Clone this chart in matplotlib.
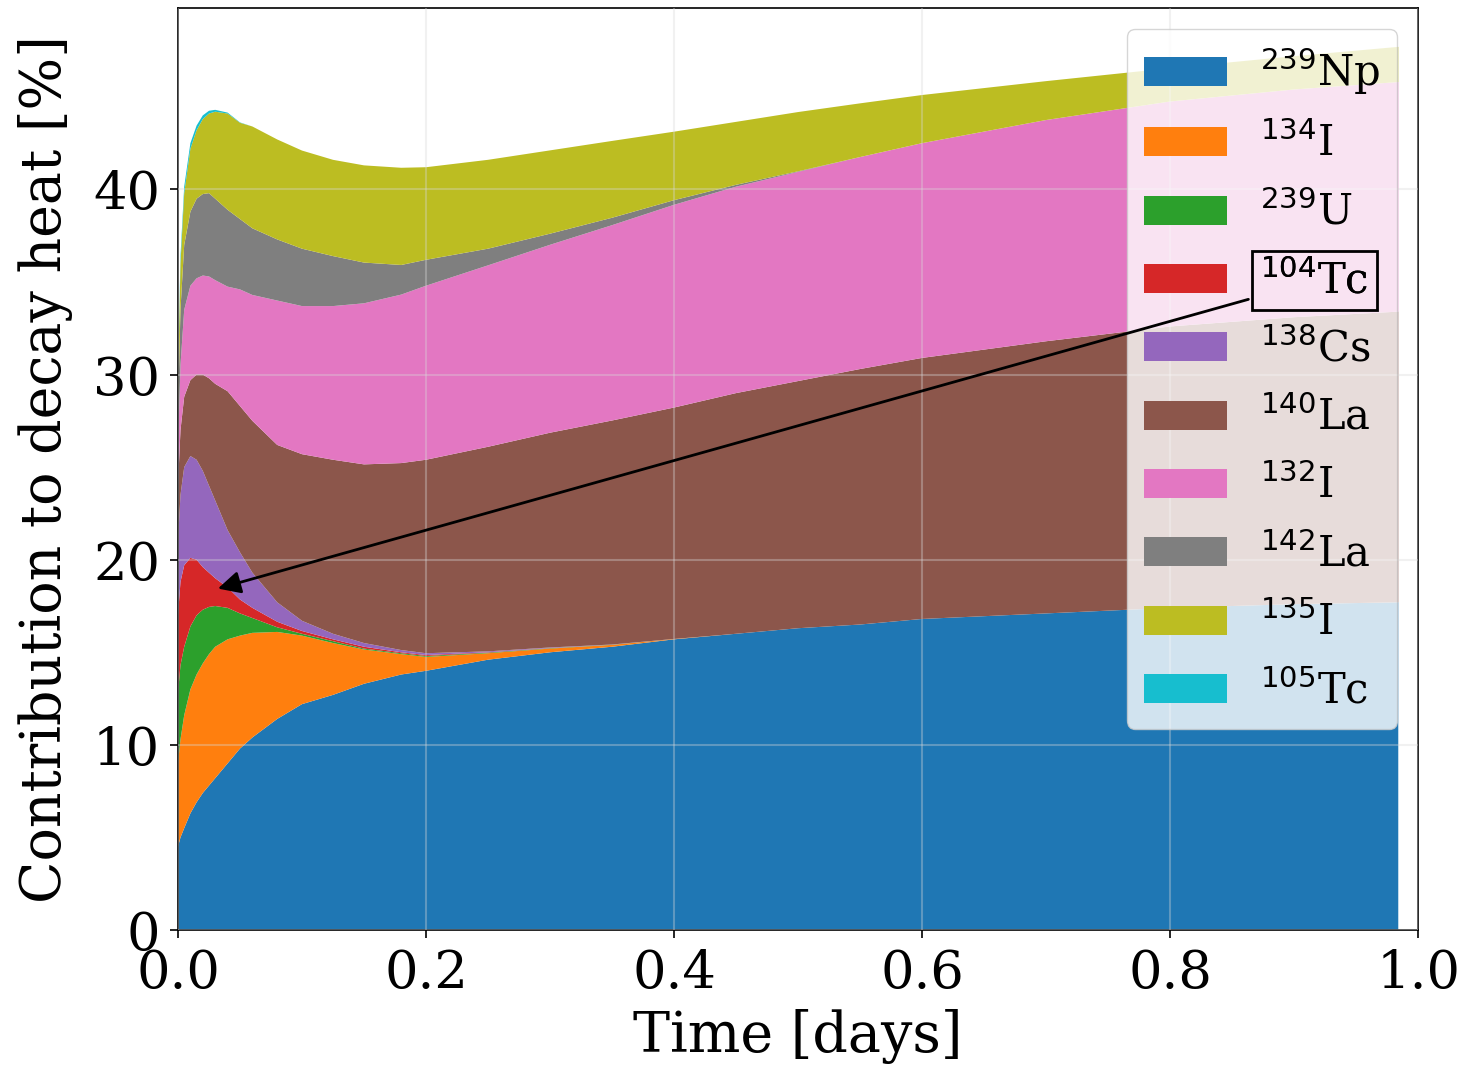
"""Decay heat contributions of the top nuclides after shutdown, stacked."""

import numpy as np
import matplotlib
matplotlib.use("Agg")
import matplotlib.pyplot as plt

plt.rcParams["font.family"] = "serif"
plt.rcParams["font.serif"] = ["DejaVu Serif"]

# time after shutdown [days]
time_days = [0, 0.002, 0.005, 0.01, 0.015, 0.02, 0.025, 0.03, 0.04, 0.05,
             0.06, 0.08, 0.1, 0.125, 0.15, 0.18, 0.2, 0.25, 0.3, 0.35,
             0.4, 0.45, 0.5, 0.55, 0.6, 0.7, 0.8, 0.9, 0.984]

nuclides = ["$^{239}$Np", "$^{134}$I", "$^{239}$U", "$^{104}$Tc", "$^{138}$Cs",
            "$^{140}$La", "$^{132}$I", "$^{142}$La", "$^{135}$I", "$^{105}$Tc"]

# contribution to decay heat [%], one list per nuclide
np239 = [4.5, 5.0, 5.5, 6.3, 6.9, 7.4, 7.8, 8.2, 9.0, 9.8,
         10.4, 11.4, 12.2, 12.7, 13.3, 13.8, 14.0, 14.6, 15.0, 15.3,
         15.7, 16.0, 16.3, 16.5, 16.8, 17.1, 17.4, 17.6, 17.7]
i134 = [4.5, 5.3, 6.1, 6.7, 6.9, 7.0, 7.1, 7.1, 6.7, 6.1,
        5.65, 4.7, 3.7, 2.8, 1.85, 1.1, 0.75, 0.35, 0.2, 0.1,
        0.02, 0, 0, 0, 0, 0, 0, 0, 0]
u239 = [3.8, 4.0, 3.7, 3.4, 3.2, 2.9, 2.55, 2.2, 1.7, 1.2,
        0.8, 0.25, 0.1, 0.1, 0.05, 0.05, 0.05, 0.03, 0.02, 0.01,
        0, 0, 0, 0, 0, 0, 0, 0, 0]
tc104 = [4.2, 4.5, 4.4, 3.7, 3.0, 2.3, 1.85, 1.5, 1.1, 0.75,
         0.55, 0.3, 0.15, 0.1, 0.1, 0.05, 0.05, 0.02, 0.01, 0,
         0, 0, 0, 0, 0, 0, 0, 0, 0]
cs138 = [4.0, 4.7, 5.3, 5.5, 5.4, 5.2, 4.7, 4.2, 3.1, 2.55,
         1.9, 1.05, 0.55, 0.3, 0.2, 0.12, 0.1, 0.05, 0.03, 0.01,
         0, 0, 0, 0, 0, 0, 0, 0, 0]
la140 = [3.0, 3.5, 3.8, 4.1, 4.6, 5.2, 5.8, 6.3, 7.5, 7.9,
         8.2, 8.5, 9.0, 9.4, 9.65, 10.1, 10.45, 11.05, 11.6, 12.1,
         12.5, 13.0, 13.35, 13.8, 14.1, 14.7, 15.2, 15.5, 15.7]
i132 = [2.0, 3.5, 4.7, 5.1, 5.2, 5.35, 5.5, 5.6, 5.65, 6.3,
        6.8, 7.8, 8.0, 8.3, 8.7, 9.1, 9.4, 9.8, 10.15, 10.55,
        10.95, 11.15, 11.3, 11.45, 11.6, 11.95, 12.15, 12.3, 12.4]
la142 = [2.0, 3.0, 3.5, 4.0, 4.3, 4.4, 4.5, 4.4, 4.15, 3.8,
         3.6, 3.3, 3.1, 2.7, 2.2, 1.6, 1.4, 0.9, 0.6, 0.4,
         0.25, 0.1, 0.03, 0, 0, 0, 0, 0, 0]
i135 = [1.5, 2.5, 2.8, 3.4, 3.7, 4.05, 4.3, 4.7, 5.2, 5.2,
        5.5, 5.4, 5.3, 5.2, 5.25, 5.25, 5.0, 4.8, 4.5, 4.15,
        3.7, 3.4, 3.2, 2.9, 2.6, 2.1, 1.8, 1.8, 1.9]
tc105 = [0.4, 0.4, 0.35, 0.3, 0.25, 0.2, 0.15, 0.1, 0.05, 0.02,
         0, 0, 0, 0, 0, 0, 0, 0, 0, 0,
         0, 0, 0, 0, 0, 0, 0, 0, 0]

series = [np239, i134, u239, tc104, cs138, la140, i132, la142, i135, tc105]

fig = plt.figure(figsize=(14.65, 10.67), dpi=100)
ax = fig.add_axes([0.1215, 0.1284, 0.8465, 0.8641])

ax.stackplot(time_days, *[np.array(s) for s in series], labels=nuclides)

ax.set_xlim(0, 1.0)
ax.set_ylim(0, 49.8)
ax.set_xticks([0.0, 0.2, 0.4, 0.6, 0.8, 1.0])
ax.set_yticks([0, 10, 20, 30, 40])
ax.tick_params(labelsize=38, length=6, width=1.2, pad=7)
for sp in ax.spines.values():
    sp.set_linewidth(1.2)

# faint grid drawn over the areas
ax.grid(True, color="#d8d8d8", alpha=0.35, linewidth=1.5)
ax.set_axisbelow(False)

ax.set_xlabel("Time [days]", fontsize=40, labelpad=7)
ax.set_ylabel("Contribution to decay heat [%]", fontsize=40, labelpad=14)

leg = ax.legend(loc="upper right", fontsize=30, framealpha=0.8,
                labelspacing=0.62)
leg.set_zorder(5)

fig.canvas.draw()
tc_label = leg.get_texts()[3]
ann = ax.annotate(
    "$^{104}$Tc", xy=(0.03, 18.4),
    xytext=(0.5, 0.5), textcoords=tc_label,
    ha="center", va="center", fontsize=30,
    bbox=dict(boxstyle="square,pad=0.2", fc="none", ec="black", lw=2),
    arrowprops=dict(arrowstyle="-|>", color="black", lw=2, mutation_scale=34),
)
ann.set_zorder(10)

fig.savefig("out.png", dpi=100, facecolor="white")
